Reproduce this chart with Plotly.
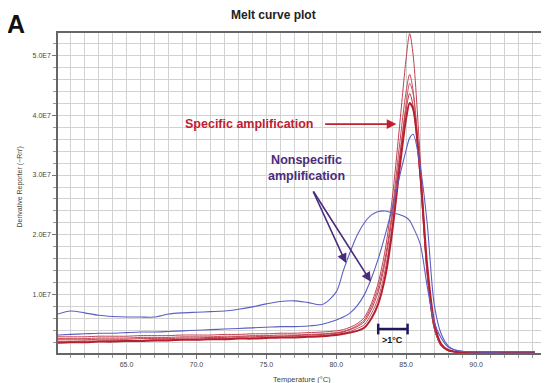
import plotly.graph_objects as go

# Temperature grid (°C)
temps = [60.1, 61, 62, 63, 64, 65, 66, 67, 68, 69, 70, 71, 72, 73, 74, 75, 76, 77, 78, 79,
         80, 80.5, 81, 81.5, 82, 82.5, 83, 83.5, 84, 84.5, 85, 85.25, 85.5, 86, 86.5, 87,
         87.5, 88, 88.5, 89, 90, 92, 94.2]

# Derivative reporter values (x 1e7)
blue_shoulder = [0.68, 0.73, 0.70, 0.66, 0.64, 0.63, 0.63, 0.63, 0.68, 0.70, 0.71, 0.72, 0.73, 0.76, 0.80, 0.85, 0.89, 0.90, 0.87, 0.84,
                 1.05, 1.40, 1.72, 2.00, 2.20, 2.33, 2.39, 2.40, 2.37, 2.34, 2.29, 2.24, 2.13, 1.85, 1.15, 0.55,
                 0.28, 0.13, 0.08, 0.06, 0.05, 0.05, 0.05]
blue_peak = [0.33, 0.34, 0.35, 0.36, 0.36, 0.37, 0.38, 0.38, 0.39, 0.40, 0.41, 0.42, 0.43, 0.44, 0.45, 0.46, 0.47, 0.47, 0.48, 0.51,
             0.58, 0.63, 0.70, 0.82, 1.00, 1.27, 1.60, 2.00, 2.45, 2.95, 3.42, 3.62, 3.68, 3.15, 2.20, 0.85,
             0.35, 0.15, 0.08, 0.06, 0.05, 0.05, 0.05]
red_a = [0.30, 0.30, 0.30, 0.31, 0.31, 0.31, 0.32, 0.32, 0.32, 0.33, 0.33, 0.33, 0.34, 0.34, 0.35, 0.35, 0.36, 0.36, 0.37, 0.38,
         0.40, 0.42, 0.46, 0.52, 0.62, 0.85, 1.20, 1.75, 2.60, 3.75, 4.95, 5.36, 5.00, 3.30, 1.40, 0.45,
         0.15, 0.07, 0.05, 0.04, 0.04, 0.04, 0.04]
red_b = [0.27, 0.27, 0.27, 0.28, 0.28, 0.28, 0.29, 0.29, 0.29, 0.30, 0.30, 0.30, 0.31, 0.31, 0.32, 0.32, 0.33, 0.33, 0.34, 0.35,
         0.37, 0.39, 0.43, 0.49, 0.58, 0.80, 1.12, 1.62, 2.40, 3.45, 4.40, 4.68, 4.40, 3.00, 1.35, 0.45,
         0.15, 0.07, 0.05, 0.04, 0.04, 0.04, 0.04]
red_c = [0.22, 0.22, 0.23, 0.23, 0.24, 0.24, 0.24, 0.25, 0.25, 0.26, 0.26, 0.27, 0.27, 0.28, 0.28, 0.29, 0.29, 0.30, 0.31, 0.32,
         0.34, 0.36, 0.39, 0.44, 0.50, 0.68, 0.95, 1.42, 2.15, 3.20, 4.20, 4.53, 4.35, 3.10, 1.45, 0.50,
         0.17, 0.07, 0.05, 0.04, 0.04, 0.04, 0.04]
red_d = [0.25, 0.25, 0.25, 0.26, 0.26, 0.26, 0.27, 0.27, 0.27, 0.28, 0.28, 0.29, 0.29, 0.30, 0.30, 0.31, 0.31, 0.32, 0.33, 0.34,
         0.36, 0.38, 0.42, 0.47, 0.55, 0.75, 1.05, 1.55, 2.30, 3.25, 4.10, 4.36, 4.15, 2.95, 1.35, 0.45,
         0.15, 0.07, 0.05, 0.04, 0.04, 0.04, 0.04]
red_thick = [0.20, 0.21, 0.21, 0.22, 0.22, 0.23, 0.23, 0.24, 0.24, 0.25, 0.25, 0.26, 0.26, 0.27, 0.27, 0.28, 0.29, 0.29, 0.30, 0.31,
             0.33, 0.35, 0.37, 0.40, 0.45, 0.60, 0.85, 1.30, 2.05, 3.05, 3.95, 4.20, 4.10, 3.05, 1.50, 0.55,
             0.18, 0.08, 0.05, 0.04, 0.04, 0.04, 0.04]

scale = 1e7
y_tickvals = [1e7, 2e7, 3e7, 4e7, 5e7]
y_ticktext = ["1.0E7", "2.0E7", "3.0E7", "4.0E7", "5.0E7"]

thin_reds = [(red_a, "#c2404f"), (red_b, "#c44a58"), (red_c, "#c85664"), (red_d, "#bf3a49")]

fig = go.Figure()
for vals, col in thin_reds:
    fig.add_trace(go.Scatter(x=temps, y=[v * scale for v in vals], mode="lines",
                             line=dict(color=col, width=1, shape="spline", smoothing=0.8),
                             showlegend=False, hoverinfo="skip"))
fig.add_trace(go.Scatter(x=temps, y=[v * scale for v in red_thick], mode="lines",
                         line=dict(color="#b51f2e", width=2, shape="spline", smoothing=0.8),
                         showlegend=False, hoverinfo="skip"))
for vals in (blue_shoulder, blue_peak):
    fig.add_trace(go.Scatter(x=temps, y=[v * scale for v in vals], mode="lines",
                             line=dict(color="#5b5fc4", width=1.1, shape="spline", smoothing=0.8),
                             showlegend=False, hoverinfo="skip"))

red_txt = "#c0202e"
purple = "#4a2c7c"
navy = "#1f1a5e"
font_main = "Liberation Sans, Arial, sans-serif"

ann = []
# Panel label and title
ann.append(dict(text="<b>A</b>", xref="paper", yref="paper", x=-0.086, y=1.078,
                xanchor="center", yanchor="top", showarrow=False,
                font=dict(size=25, color="#111", family=font_main)))
ann.append(dict(text="<b>Melt curve plot</b>", xref="paper", yref="paper", x=0.442, y=1.056,
                xanchor="center", yanchor="middle", showarrow=False,
                font=dict(size=12, color="#222", family=font_main)))
# Axis titles
ann.append(dict(text="Derivative Reporter (\u2212Rn\u2032)", xref="paper", yref="paper", x=-0.078, y=0.52,
                textangle=-90, xanchor="center", yanchor="middle", showarrow=False,
                font=dict(size=7, color="#444", family=font_main)))
ann.append(dict(text="Temperature (\u00b0C)", xref="paper", yref="paper", x=0.5, y=-0.084,
                xanchor="center", yanchor="middle", showarrow=False,
                font=dict(size=7.5, color="#444", family=font_main)))
# Specific amplification
ann.append(dict(text="<b>Specific amplification</b>", x=73.78, y=3.85e7, xanchor="center", yanchor="middle",
                showarrow=False, font=dict(size=12.5, color=red_txt, family=font_main)))
ann.append(dict(text="", x=84.3, y=3.85e7, ax=79.1, ay=3.85e7, axref="x", ayref="y",
                showarrow=True, arrowhead=2, arrowsize=1.2, arrowwidth=1.6, arrowcolor=red_txt))
# Nonspecific amplification
ann.append(dict(text="<b>Nonspecific<br>amplification</b>", x=77.85, y=3.12e7, xanchor="center", yanchor="middle",
                showarrow=False, font=dict(size=12.5, color=purple, family=font_main)))
ann.append(dict(text="", x=80.7, y=1.53e7, ax=78.3, ay=2.75e7, axref="x", ayref="y",
                showarrow=True, arrowhead=2, arrowsize=1.2, arrowwidth=1.6, arrowcolor=purple))
ann.append(dict(text="", x=82.48, y=1.22e7, ax=78.3, ay=2.75e7, axref="x", ayref="y",
                showarrow=True, arrowhead=2, arrowsize=1.2, arrowwidth=1.6, arrowcolor=purple))
# >1°C bracket label
ann.append(dict(text="<b>>1\u00b0C</b>", x=84.0, y=0.24e7, xanchor="center", yanchor="middle",
                showarrow=False, font=dict(size=9, color="#111", family=font_main)))

shapes = [
    dict(type="line", x0=83.0, x1=85.1, y0=0.43e7, y1=0.43e7, line=dict(color=navy, width=2.5)),
    dict(type="line", x0=83.0, x1=83.0, y0=0.34e7, y1=0.52e7, line=dict(color=navy, width=2.5)),
    dict(type="line", x0=85.1, x1=85.1, y0=0.34e7, y1=0.52e7, line=dict(color=navy, width=2.5)),
]

grid = "#d2d2d2"
# page body has an 8px default margin; figure is sized to fit the window
fig.update_layout(
    width=541, height=375,
    margin=dict(l=50, r=1, t=25, b=30),
    paper_bgcolor="white", plot_bgcolor="white",
    annotations=ann, shapes=shapes,
    showlegend=False,
)
fig.update_xaxes(
    range=[60.1, 95.0], tick0=65, dtick=5, tickformat=".1f",
    ticks="outside", ticklen=4, tickcolor="#777",
    showgrid=True, gridcolor=grid, gridwidth=1,
    minor=dict(dtick=1, ticks="outside", ticklen=3, tickcolor="#999", showgrid=True, gridcolor=grid),
    showline=True, linecolor="#666", linewidth=1.5, mirror=True, zeroline=False,
    tickfont=dict(size=7, color="#444", family=font_main),
)
fig.update_yaxes(
    range=[0.03e7, 5.37e7], tickvals=y_tickvals, ticktext=y_ticktext,
    ticks="outside", ticklen=4, tickcolor="#777",
    showgrid=True, gridcolor=grid, gridwidth=1,
    minor=dict(dtick=0.2e7, ticks="outside", ticklen=3, tickcolor="#999", showgrid=True, gridcolor=grid),
    showline=True, linecolor="#666", linewidth=1.5, mirror=True, zeroline=False,
    tickfont=dict(size=7, color="#444", family=font_main),
)

fig.write_html("out.html")
